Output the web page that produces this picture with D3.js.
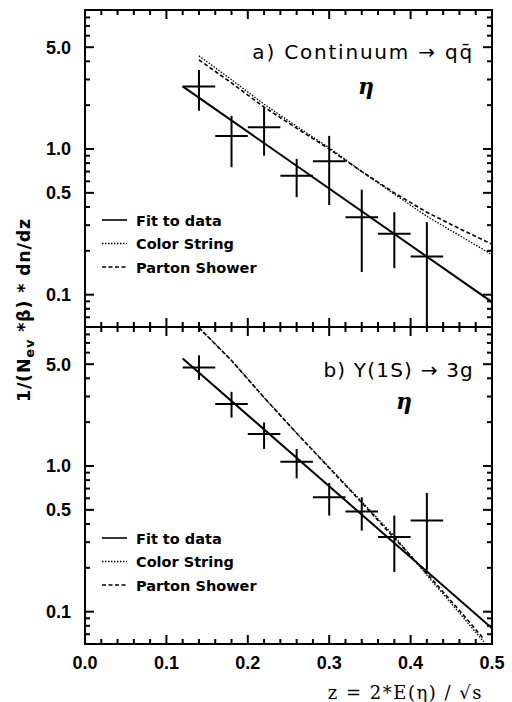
<!DOCTYPE html>
<html><head><meta charset="utf-8">
<script src="https://cdn.jsdelivr.net/npm/d3@7"></script>
<style>
html,body{margin:0;padding:0;background:#fff;}
svg{display:block;}
</style></head>
<body>
<script>
// ---------- DATA ----------
const zBins = [0.14, 0.18, 0.22, 0.26, 0.30, 0.34, 0.38, 0.42];
const zHalfWidth = 0.02;
// Panel a: Continuum -> q qbar
const contVal = [2.69, 1.23, 1.41, 0.656, 0.824, 0.340, 0.262, 0.183];
const contHi  = [3.49, 1.69, 1.93, 0.855, 1.23, 0.526, 0.368, 0.315];
const contLo  = [1.83, 0.75, 0.90, 0.467, 0.413, 0.143, 0.152, 0.05];
// Panel b: Upsilon(1S) -> 3g
const upsVal = [4.74, 2.66, 1.66, 1.07, 0.61, 0.487, 0.325, 0.422];
const upsHi  = [5.75, 3.23, 1.99, 1.31, 0.765, 0.61, 0.457, 0.653];
const upsLo  = [3.90, 2.15, 1.31, 0.823, 0.457, 0.360, 0.187, 0.192];
// Fits
const fitZ = [0.12, 0.50];
const contFit = [2.69, 0.089];
const upsFit = [5.47, 0.0770];
// Model curves, panel a
const modelZa = [0.14, 0.18, 0.22, 0.26, 0.30, 0.34, 0.38, 0.42, 0.46, 0.50];
const colorStringA = [4.36, 2.99, 2.03, 1.43, 1.02, 0.70, 0.49, 0.345, 0.255, 0.188];
const partonShowerA = [4.09, 2.84, 1.94, 1.39, 1.00, 0.70, 0.50, 0.368, 0.284, 0.222];
// Model curves, panel b
const modelZb = [0.14, 0.18, 0.22, 0.26, 0.30, 0.34, 0.38, 0.42, 0.46, 0.49];
const colorStringB = [8.9, 5.3, 2.95, 1.68, 0.98, 0.57, 0.33, 0.178, 0.098, 0.062];
const partonShowerB = [8.9, 5.3, 2.95, 1.68, 0.97, 0.56, 0.32, 0.183, 0.102, 0.065];
// Axis ticks
const xTicks = [0.0, 0.1, 0.2, 0.3, 0.4, 0.5];
const xMinorTicks = [0.02,0.04,0.06,0.08,0.12,0.14,0.16,0.18,0.22,0.24,0.26,0.28,0.32,0.34,0.36,0.38,0.42,0.44,0.46,0.48];
const yTicks = [0.1, 0.5, 1.0, 5.0];
const yMinorTicks = [0.06,0.07,0.08,0.09,0.2,0.3,0.4,0.6,0.7,0.8,0.9,2,3,4,6,7,8,9];
const legendLabels = ["Fit to data", "Color String", "Parton Shower"];

// ---------- LAYOUT ----------
const W = 512, H = 702;
const L = 85, R = 492;
const panels = [
  {top: 10, bottom: 327, val: contVal, hi: contHi, lo: contLo, fit: contFit,
   cs: colorStringA, ps: partonShowerA, mz: modelZa,
   title: "a) Continuum \u2192 q\u0071\u0304", titleY: 58.5, etaX: 366, etaY: 94, legY: 220, ls: 1.8},
  {top: 327, bottom: 644, val: upsVal, hi: upsHi, lo: upsLo, fit: upsFit,
   cs: colorStringB, ps: partonShowerB, mz: modelZb,
   title: "b) \u03A5(1S) \u2192 3g", titleY: 377, etaX: 404, etaY: 409, legY: 538, ls: 1.2}
];

const svg = d3.select("body").append("svg").attr("width", W).attr("height", H);
const x = d3.scaleLinear().domain([0, 0.5]).range([L, R]);
const fmt = d3.format(".1f");

panels.forEach((p, i) => {
  const y = d3.scaleLog().domain([0.06, 9.0]).range([p.bottom, p.top]);
  const g = svg.append("g");
  const clipId = "clip" + i;
  svg.append("clipPath").attr("id", clipId).append("rect")
    .attr("x", L).attr("y", p.top).attr("width", R - L).attr("height", p.bottom - p.top);

  // ticks (all four sides, inward)
  const tk = g.append("g").attr("stroke", "#000").attr("stroke-width", 2);
  [[yTicks, 9], [yMinorTicks, 5]].forEach(([vals, len]) => {
    vals.forEach(v => {
      tk.append("line").attr("x1", L).attr("x2", L + len).attr("y1", y(v)).attr("y2", y(v));
      tk.append("line").attr("x1", R).attr("x2", R - len).attr("y1", y(v)).attr("y2", y(v));
    });
  });
  [[xTicks, 9], [xMinorTicks, 5]].forEach(([vals, len]) => {
    vals.forEach(v => {
      tk.append("line").attr("x1", x(v)).attr("x2", x(v)).attr("y1", p.top).attr("y2", p.top + len);
      tk.append("line").attr("x1", x(v)).attr("x2", x(v)).attr("y1", p.bottom).attr("y2", p.bottom - len);
    });
  });

  // y labels
  g.append("g").selectAll("text").data(yTicks).join("text")
    .attr("x", L - 14).attr("y", d => y(d)).attr("dy", "0.36em").attr("text-anchor", "end")
    .attr("font-family", "Liberation Sans").attr("font-weight", "bold").attr("font-size", 18)
    .attr("fill", "#000").text(fmt);

  // frame
  g.append("rect").attr("x", L).attr("y", p.top).attr("width", R - L).attr("height", p.bottom - p.top)
    .attr("fill", "none").attr("stroke", "#000").attr("stroke-width", 2);

  const plot = g.append("g").attr("clip-path", `url(#${clipId})`);
  const line = d3.line().x(d => x(d[0])).y(d => y(d[1]));

  // fit
  plot.append("path").attr("d", line(fitZ.map((z, k) => [z, p.fit[k]])))
    .attr("fill", "none").attr("stroke", "#000").attr("stroke-width", 2);
  // color string (dotted)
  plot.append("path").attr("d", line(p.mz.map((z, k) => [z, p.cs[k]])))
    .attr("fill", "none").attr("stroke", "#000").attr("stroke-width", 1.3).attr("stroke-dasharray", "1.5,1.5");
  // parton shower (dashed)
  plot.append("path").attr("d", line(p.mz.map((z, k) => [z, p.ps[k]])))
    .attr("fill", "none").attr("stroke", "#000").attr("stroke-width", 1.6).attr("stroke-dasharray", "4,2.5");

  // data crosses
  zBins.forEach((z, k) => {
    plot.append("line").attr("x1", x(z - zHalfWidth)).attr("x2", x(z + zHalfWidth))
      .attr("y1", y(p.val[k])).attr("y2", y(p.val[k])).attr("stroke", "#000").attr("stroke-width", 2);
    plot.append("line").attr("x1", x(z)).attr("x2", x(z))
      .attr("y1", y(p.hi[k])).attr("y2", y(p.lo[k])).attr("stroke", "#000").attr("stroke-width", 2);
  });

  // titles
  g.append("text").attr("x", 474).attr("y", p.titleY).attr("text-anchor", "end")
    .attr("font-family", "DejaVu Sans").attr("font-size", 20).attr("letter-spacing", p.ls)
    .attr("fill", "#000").text(p.title);
  g.append("text").attr("x", p.etaX).attr("y", p.etaY).attr("text-anchor", "middle")
    .attr("font-family", "DejaVu Serif").attr("font-style", "italic").attr("font-weight", "bold").attr("font-size", 22)
    .attr("fill", "#000").text("\u03B7");

  // legend
  const dashes = [null, "1.5,1.5", "4,2.5"];
  const widths = [1.6, 1.3, 1.6];
  legendLabels.forEach((lab, k) => {
    const ly = p.legY + k * 23.5;
    const ln = g.append("line").attr("x1", 102).attr("x2", 127).attr("y1", ly).attr("y2", ly)
      .attr("stroke", "#000").attr("stroke-width", widths[k]);
    if (dashes[k]) ln.attr("stroke-dasharray", dashes[k]);
    g.append("text").attr("x", 136).attr("y", ly + 5.5)
      .attr("font-family", "DejaVu Sans").attr("font-weight", "bold").attr("font-size", 14.5)
      .attr("fill", "#000").text(lab);
  });

  if (i === 1) {
    g.append("g").selectAll("text").data(xTicks).join("text")
      .attr("x", d => x(d)).attr("y", p.bottom + 12).attr("dy", "0.71em").attr("text-anchor", "middle")
      .attr("font-family", "Liberation Sans").attr("font-weight", "bold").attr("font-size", 18)
      .attr("fill", "#000").text(fmt);
  }
});

// axis titles
svg.append("text").attr("x", 483).attr("y", 699).attr("text-anchor", "end")
  .attr("font-family", "DejaVu Serif").attr("font-size", 18).attr("fill", "#000")
  .attr("letter-spacing", 1.5)
  .text("z = 2*E(\u03B7) / \u221As");

const yt = svg.append("text").attr("transform", "translate(30,310) rotate(-90)")
  .attr("text-anchor", "middle").attr("font-family", "DejaVu Sans").attr("font-weight", "bold")
  .attr("font-size", 17.5).attr("letter-spacing", 0.8).attr("fill", "#000");
yt.append("tspan").text("1/(N");
yt.append("tspan").attr("font-size", 13).attr("dy", 4).text("ev");
yt.append("tspan").attr("dy", -4).text(" *\u03B2) * dn/dz");
</script>
</body></html>
